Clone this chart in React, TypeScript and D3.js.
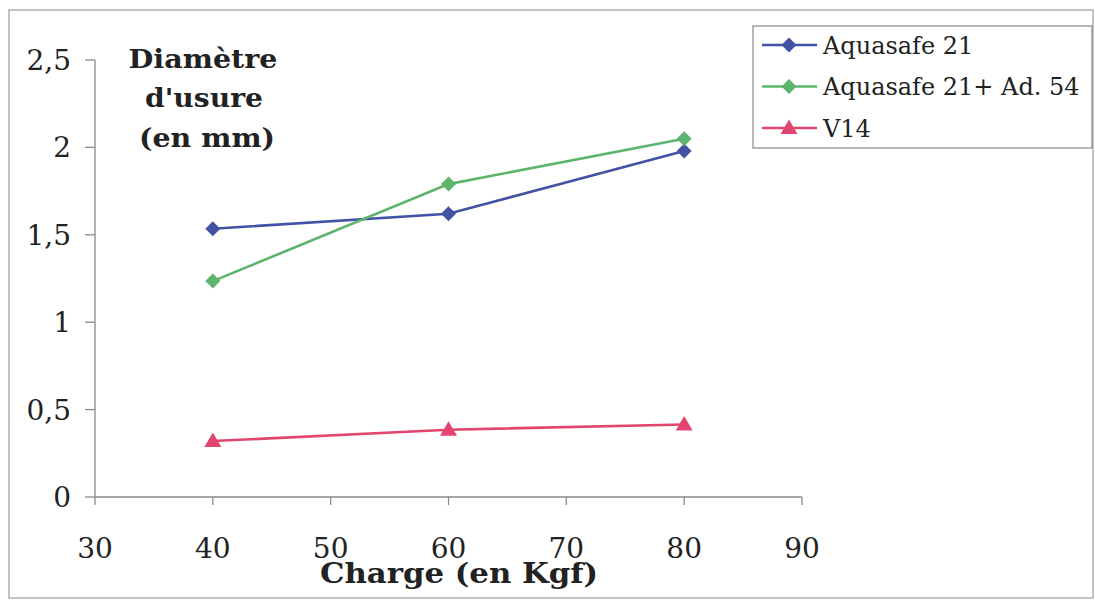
import React from "react";
import * as d3 from "d3";

const charges = [40, 60, 80];
const aquasafe21 = [1.535, 1.62, 1.98];
const aquasafeAd54 = [1.235, 1.79, 2.05];
const v14 = [0.32, 0.385, 0.415];
const xTicks = [30, 40, 50, 60, 70, 80, 90];
const yTicks = [0, 0.5, 1, 1.5, 2, 2.5];
const seriesNames = ["Aquasafe 21", "Aquasafe 21+ Ad. 54", "V14"];
const seriesColors = ["#4452a3", "#5db46c", "#e2466e"];
const seriesMarkers = ["diamond", "diamond", "triangle"];

const W = 1095;
const H = 600;

export default function App() {
  const x = d3.scaleLinear().domain([30, 90]).range([95, 802]);
  const y = d3.scaleLinear().domain([0, 2.5]).range([497, 60]);
  const allSeries = [aquasafe21, aquasafeAd54, v14];
  const line = d3
    .line<number>()
    .x((_, i) => x(charges[i]))
    .y((d) => y(d));
  const fmt = (v: number) => String(v).replace(".", ",");
  const font = "'DejaVu Serif', serif";

  const marker = (type: string, cx: number, cy: number, color: string, key: any) => {
    if (type === "diamond") {
      const s = 7.5;
      return (
        <path
          key={key}
          d={`M${cx},${cy - s}L${cx + s},${cy}L${cx},${cy + s}L${cx - s},${cy}Z`}
          fill={color}
        />
      );
    }
    const s = 8.5;
    return (
      <path
        key={key}
        d={`M${cx},${cy - s}L${cx + s},${cy + s * 0.7}L${cx - s},${cy + s * 0.7}Z`}
        fill={color}
      />
    );
  };

  return (
    <svg
      width={W}
      height={H}
      style={{ position: "absolute", left: 0, top: 0, background: "#fff" }}
    >
      <rect x={9} y={10} width={1084} height={588} fill="none" stroke="#b0b0b0" strokeWidth={1.5} />
      {/* axes */}
      <line x1={95} x2={95} y1={y(2.5)} y2={y(0)} stroke="#8a8a8a" strokeWidth={1.3} />
      <line x1={x(30)} x2={x(90)} y1={y(0)} y2={y(0)} stroke="#8a8a8a" strokeWidth={1.3} />
      {yTicks.map((t) => (
        <g key={"y" + t}>
          <line x1={85} x2={95} y1={y(t)} y2={y(t)} stroke="#8a8a8a" strokeWidth={1.3} />
          <text
            x={71}
            y={y(t)}
            dy="0.36em"
            textAnchor="end"
            fontFamily={font}
            fontSize={28}
            fill="#222"
          >
            {fmt(t)}
          </text>
        </g>
      ))}
      {xTicks.map((t) => (
        <g key={"x" + t}>
          <line x1={x(t)} x2={x(t)} y1={y(0)} y2={y(0) + 8} stroke="#8a8a8a" strokeWidth={1.3} />
          <text
            x={x(t)}
            y={558}
            textAnchor="middle"
            fontFamily={font}
            fontSize={28}
            fill="#222"
          >
            {t}
          </text>
        </g>
      ))}
      {/* axis titles */}
      <text textAnchor="middle" fontFamily={font} fontWeight="bold" fontSize={26} fill="#222">
        <tspan x={203} y={68} textLength={149} lengthAdjust="spacingAndGlyphs">Diamètre</tspan>
        <tspan x={204} y={107} textLength={118} lengthAdjust="spacingAndGlyphs">d'usure</tspan>
        <tspan x={207} y={147} textLength={136} lengthAdjust="spacingAndGlyphs">(en mm)</tspan>
      </text>
      <text
        x={459}
        y={583}
        textAnchor="middle"
        fontFamily={font}
        fontWeight="bold"
        fontSize={27}
        fill="#222"
        textLength={278}
        lengthAdjust="spacingAndGlyphs"
      >
        Charge (en Kgf)
      </text>
      {/* series */}
      {allSeries.map((s, si) => (
        <g key={"s" + si}>
          <path d={line(s) || ""} fill="none" stroke={seriesColors[si]} strokeWidth={2.6} />
          {s.map((v, i) => marker(seriesMarkers[si], x(charges[i]), y(v), seriesColors[si], i))}
        </g>
      ))}
      {/* legend */}
      <rect x={753} y={26} width={339} height={122} fill="#fff" stroke="#888" strokeWidth={1.2} />
      {seriesNames.map((n, i) => {
        const ly = 45 + i * 41.5;
        return (
          <g key={"l" + i}>
            <line x1={762} x2={817} y1={ly} y2={ly} stroke={seriesColors[i]} strokeWidth={2.6} />
            {marker(seriesMarkers[i], 789, ly, seriesColors[i], "m")}
            <text x={823} y={ly} dy="0.36em" fontFamily={font} fontSize={24} fill="#222">
              {n}
            </text>
          </g>
        );
      })}
    </svg>
  );
}
